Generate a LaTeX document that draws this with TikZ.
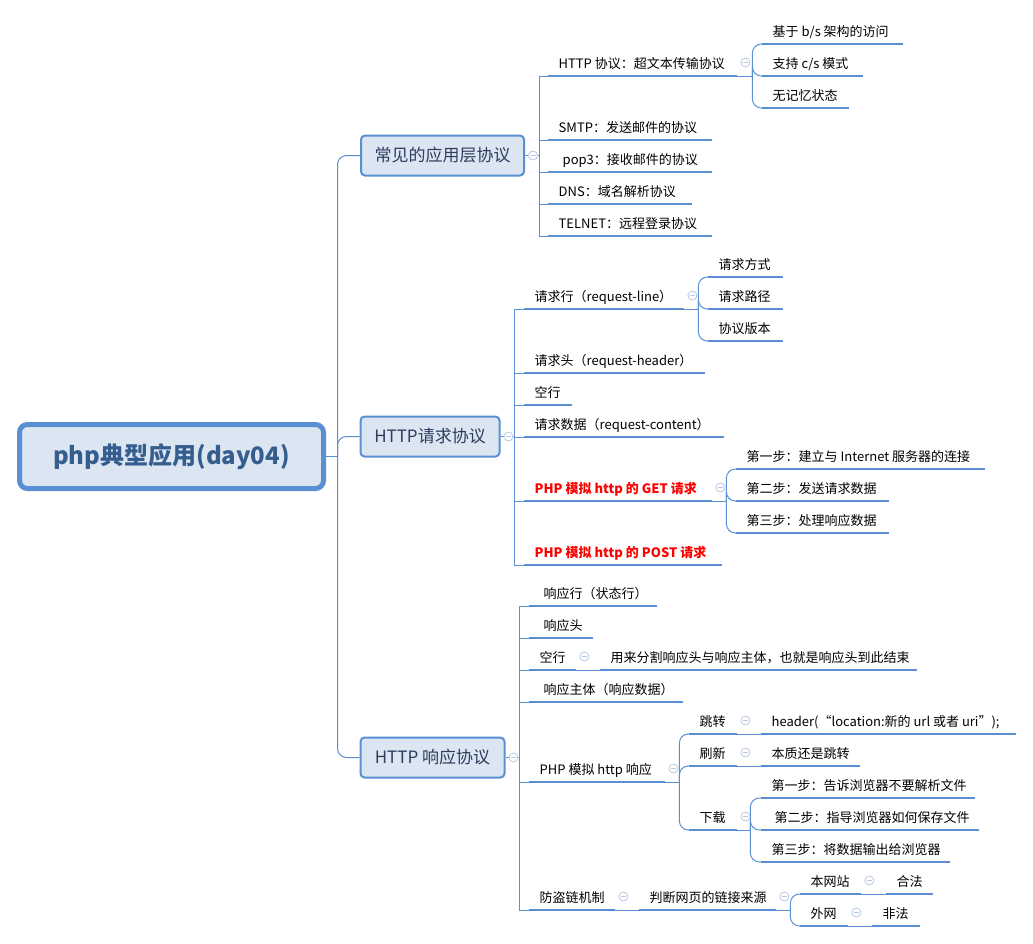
\documentclass[tikz,border=0pt]{standalone}
\usepackage{fontspec}
\setmainfont{Noto Sans CJK SC}
\definecolor{lineblue}{HTML}{5B8FD4}
\definecolor{boxfill}{HTML}{DCE6F2}
\definecolor{roottext}{HTML}{355E8E}
\definecolor{lonetext}{HTML}{2B3E5C}
\definecolor{markc}{HTML}{B7C8E6}
\newcommand\lbl[2]{\makebox[#1pt][l]{#2}}
\begin{document}
\begin{tikzpicture}[x=1pt,y=-1pt,
  conn/.style={draw=lineblue, line width=1pt},
  curvy/.style={conn, rounded corners=9pt},
  uline/.style={draw=lineblue, line width=2.8pt},
  topic/.style={anchor=south west, inner xsep=10.5pt, inner ysep=4.2pt, text height=10pt, text depth=3.5pt, font=\fontsize{13}{15}\selectfont, text=black},
  hot/.style={topic, text=red, font=\fontsize{13}{15}\selectfont\bfseries},
  mainbox/.style={draw=lineblue, line width=2pt, fill=boxfill, rounded corners=4pt, text=lonetext, font=\fontsize{17}{20}\selectfont, inner sep=0pt, minimum height=40pt},
  rootbox/.style={draw=lineblue, line width=5pt, fill=boxfill, rounded corners=8pt, text=roottext, font=\fontsize{24}{28}\selectfont\bfseries, minimum width=304pt, minimum height=64pt, inner sep=0pt},
  marker/.style={circle, draw=markc, fill=white, line width=0.8pt, minimum size=9pt, inner sep=0pt,
    path picture={\draw[markc, line width=0.8pt] ([xshift=-2.5pt]path picture bounding box.center) -- ([xshift=2.5pt]path picture bounding box.center);}},
]
\useasboundingbox[fill=white] (0,0) rectangle (1033,943);

% root and main topics
\node[rootbox] (root) at (171.5,456.5) {php典型应用(day04)};
\node[mainbox, minimum width=163pt] (la) at (442.5,155.5) {常见的应用层协议};
\node[mainbox, minimum width=139pt] (lb) at (430,436.5) {HTTP请求协议};
\node[mainbox, minimum width=144pt] (lc) at (432.5,757.5) {HTTP 响应协议};

% common protocols
\node[topic] (a1) at (548,76) {\lbl{168}{HTTP 协议：超文本传输协议}};
\node[topic] (a2) at (548,140) {\lbl{143}{SMTP：发送邮件的协议}};
\node[topic] (a3) at (548,172) {\lbl{143}{\hspace*{4pt}pop3：接收邮件的协议}};
\node[topic] (a4) at (548,204) {\lbl{123}{DNS：域名解析协议}};
\node[topic] (a5) at (548,236) {\lbl{143}{TELNET：远程登录协议}};
\node[topic] (a11) at (762,44) {\lbl{120}{基于 b/s 架构的访问}};
\node[topic] (a12) at (762,76) {\lbl{80}{支持 c/s 模式}};
\node[topic] (a13) at (762,108) {\lbl{66}{无记忆状态}};

% request
\node[topic] (b1) at (524,309) {\lbl{139}{请求行（request-line）}};
\node[topic] (b2) at (524,373) {\lbl{160}{请求头（request-header）}};
\node[topic] (b3) at (524,405) {\lbl{27}{空行}};
\node[topic] (b4) at (524,437) {\lbl{179}{请求数据（request-content）}};
\node[hot] (b5) at (524,501) {\lbl{167}{PHP 模拟 http 的 GET 请求}};
\node[hot] (b6) at (524,565) {\lbl{177}{PHP 模拟 http 的 POST 请求}};
\node[topic] (b11) at (708,277) {\lbl{54}{请求方式}};
\node[topic] (b12) at (708,309) {\lbl{54}{请求路径}};
\node[topic] (b13) at (708,341) {\lbl{54}{协议版本}};
\node[topic] (b51) at (736,469) {\lbl{228}{第一步：建立与 Internet 服务器的连接}};
\node[topic] (b52) at (736,501) {\lbl{132}{第二步：发送请求数据}};
\node[topic] (b53) at (736,533) {\lbl{132}{第三步：处理响应数据}};

% response
\node[topic] (c1) at (529,606) {\lbl{107}{\hspace*{4pt}响应行（状态行）}};
\node[topic] (c2) at (529,638) {\lbl{43}{\hspace*{4pt}响应头}};
\node[topic] (c3) at (529,670) {\lbl{26}{空行}};
\node[topic] (c31) at (600,670) {\lbl{296}{用来分割响应头与响应主体，也就是响应头到此结束}};
\node[topic] (c4) at (529,702) {\lbl{133}{\hspace*{4pt}响应主体（响应数据）}};
\node[topic] (c5) at (529,782) {\lbl{115}{PHP 模拟 http 响应}};
\node[topic] (c51) at (689,734) {\lbl{27}{跳转}};
\node[topic] (c511) at (761,734) {\lbl{234}{header(“location:新的 url 或者 uri”);}};
\node[topic] (c52) at (689,766) {\lbl{27}{刷新}};
\node[topic] (c521) at (761,766) {\lbl{78}{本质还是跳转}};
\node[topic] (c53) at (689,830) {\lbl{27}{下载}};
\node[topic] (c531) at (761,798) {\lbl{193}{第一步：告诉浏览器不要解析文件}};
\node[topic] (c532) at (761,830) {\lbl{197}{\hspace*{3pt}第二步：指导浏览器如何保存文件}};
\node[topic] (c533) at (761,862) {\lbl{168}{第三步：将数据输出给浏览器}};
\node[topic] (c6) at (529,910) {\lbl{65}{防盗链机制}};
\node[topic] (c61) at (639,910) {\lbl{116}{判断网页的链接来源}};
\node[topic] (c611) at (800,894) {\lbl{40}{本网站}};
\node[topic] (c6111) at (886,894) {\lbl{26}{合法}};
\node[topic] (c612) at (800,926) {\lbl{27}{外网}};
\node[topic] (c6121) at (872,926) {\lbl{27}{非法}};

% underlines
\foreach \n in {a1,a2,a3,a4,a5,a11,a12,a13,b1,b2,b3,b4,b5,b6,b11,b12,b13,b51,b52,b53,
  c1,c2,c3,c31,c4,c5,c51,c511,c52,c521,c53,c531,c532,c533,c6,c61,c611,c6111,c612,c6121}
  \draw[uline] (\n.south west) -- (\n.south east);

% trunk
\draw[conn] (root.east) -- ++(11.5,0) coordinate (trunk);
\foreach \n in {la,lb,lc} \draw[curvy] (trunk) |- (\n.west);

% level 1 -> level 2
\draw[conn] (la.east) -- ++(14,0) coordinate (ja);
\foreach \n in {a1,a2,a3,a4,a5} \draw[conn] (ja) |- (\n.south west);
\draw[conn] (lb.east) -- ++(14,0) coordinate (jb);
\foreach \n in {b1,b2,b3,b4,b5,b6} \draw[conn] (jb) |- (\n.south west);
\draw[conn] (lc.east) -- ++(14,0) coordinate (jc);
\foreach \n in {c1,c2,c3,c4,c5,c6} \draw[conn] (jc) |- (\n.south west);

% brackets
\draw[conn] (a1.south east) -- ++(15,0) coordinate (ja1);
\foreach \n in {a11,a12,a13} \draw[curvy] (ja1) |- (\n.south west);
\draw[conn] (b1.south east) -- ++(14,0) coordinate (jb1);
\foreach \n in {b11,b12,b13} \draw[curvy] (jb1) |- (\n.south west);
\draw[conn] (b5.south east) -- ++(14,0) coordinate (jb5);
\foreach \n in {b51,b52,b53} \draw[curvy] (jb5) |- (\n.south west);
\draw[conn] (c5.south east) -- ++(14,0) coordinate (jc5);
\foreach \n in {c51,c52,c53} \draw[curvy] (jc5) |- (\n.south west);
\draw[conn] (c53.south east) -- ++(13,0) coordinate (jc53);
\foreach \n in {c531,c532,c533} \draw[curvy] (jc53) |- (\n.south west);
\draw[conn] (c61.south east) -- ++(14,0) coordinate (jc61);
\foreach \n in {c611,c612} \draw[curvy] (jc61) |- (\n.south west);

% single links
\draw[conn] (c3.south east) -- (c31.south west);
\draw[conn] (c51.south east) -- (c511.south west);
\draw[conn] (c52.south east) -- (c521.south west);
\draw[conn] (c6.south east) -- (c61.south west);
\draw[conn] (c611.south east) -- (c6111.south west);
\draw[conn] (c612.south east) -- (c6121.south west);

% collapse markers
\foreach \n in {la,lb,lc} \node[marker] at ([xshift=8pt]\n.east) {};
\foreach \n in {a1,b1,b5,c3,c5,c51,c52,c53,c6,c61,c611,c612}
  \node[marker] at ([shift={(8pt,13.5pt)}]\n.south east) {};
\end{tikzpicture}
\end{document}
